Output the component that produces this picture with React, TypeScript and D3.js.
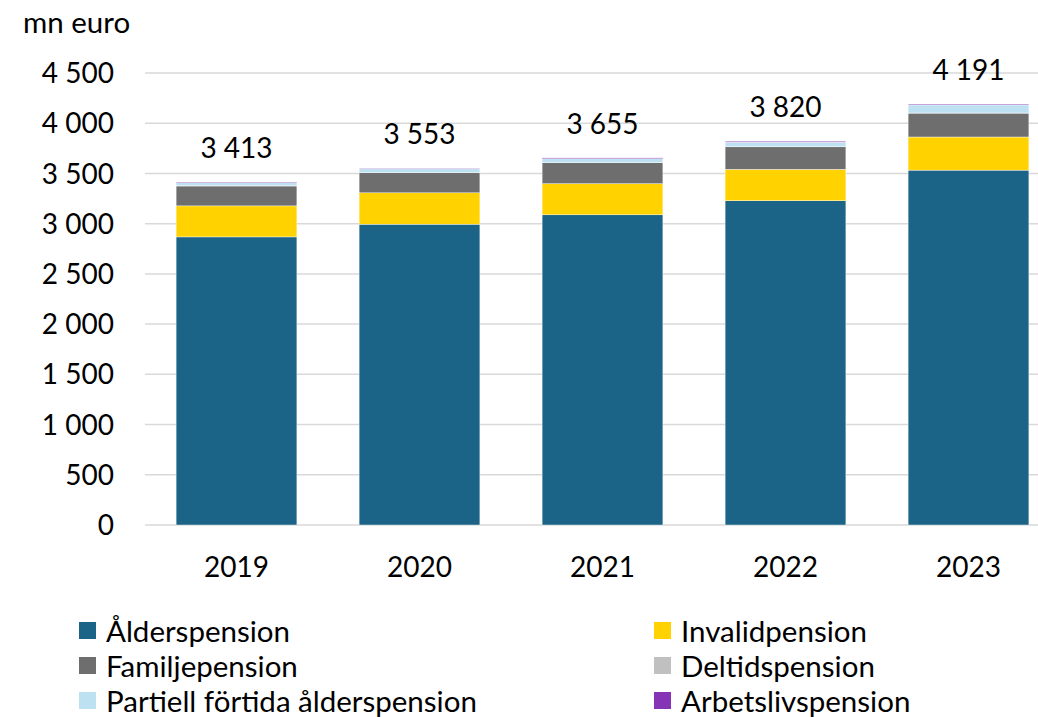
import React from "react";
import * as d3 from "d3";

const years = ["2019", "2020", "2021", "2022", "2023"];
const alder = [2868, 2995, 3088, 3228, 3533];
const invalid = [309, 312, 310, 313, 330];
const familj = [198, 200, 208, 224, 238];
const deltid = [2, 1, 1, 1, 1];
const partiell = [30, 38, 40, 45, 80];
const arbetsliv = [6, 7, 8, 9, 9];
const totals = [3413, 3553, 3655, 3820, 4191];
const yTicks = [0, 500, 1000, 1500, 2000, 2500, 3000, 3500, 4000, 4500];

const seriesNames = ["Ålderspension", "Invalidpension", "Familjepension", "Deltidspension", "Partiell förtida ålderspension", "Arbetslivspension"];
const seriesColors = ["#1b6387", "#ffd200", "#6e6e6e", "#c0c0c0", "#bde1f0", "#8434b4"];
const seriesData = [alder, invalid, familj, deltid, partiell, arbetsliv];

const fmt = (v: number) => {
  const s = String(v);
  return s.length > 3 ? s.slice(0, s.length - 3) + " " + s.slice(s.length - 3) : s;
};

export default function App() {
  const W = 1038, H = 717;
  const left = 145, right = 1060, top = 73, bottom = 525;
  const x = d3.scaleBand().domain(years).range([left, right]).paddingInner(0.34).paddingOuter(0.17);
  const y = d3.scaleLinear().domain([0, 4500]).range([bottom, top]);
  const rows = years.map((yr, i) => {
    const o: any = { year: yr };
    seriesNames.forEach((n, k) => (o[n] = seriesData[k][i]));
    return o;
  });
  const stack = d3.stack<any>().keys(seriesNames)(rows);
  const font = "Lato, 'Open Sans', sans-serif";
  const legendItems = [
    [0, 0], [1, 0], [0, 1], [1, 1], [0, 2], [1, 2],
  ];
  return (
    <svg width={W} height={H} style={{ position: "fixed", left: 0, top: 0, background: "#fff" }} fontFamily={font}>
      <rect width={W} height={H} fill="#fff" />
      {yTicks.map((t) => (
        <g key={t}>
          <line x1={left} x2={right} y1={y(t)} y2={y(t)} stroke="#d9d9d9" strokeWidth={1.5} />
          <text x={114} y={y(t)} dy="0.36em" textAnchor="end" fontSize={28} fill="#000">{fmt(t)}</text>
        </g>
      ))}
      <text x={23} y={33} fontSize={29.5} fill="#000">mn euro</text>
      {stack.map((layer, k) => (
        <g key={k} fill={seriesColors[k]}>
          {layer.map((d, i) => (
            <rect key={i} x={x(years[i])} width={x.bandwidth()} y={y(d[1])} height={Math.max(0, y(d[0]) - y(d[1]))} stroke="#fff" strokeWidth={0.4} />
          ))}
        </g>
      ))}
      {years.map((yr, i) => (
        <g key={yr}>
          <text x={(x(yr) as number) + x.bandwidth() / 2} y={y(totals[i]) - 24} textAnchor="middle" fontSize={28} fill="#000">{fmt(totals[i])}</text>
          <text x={(x(yr) as number) + x.bandwidth() / 2} y={577} textAnchor="middle" fontSize={28} fill="#000">{yr}</text>
        </g>
      ))}
      {seriesNames.map((n, k) => {
        const [c, r] = legendItems[k];
        const sx = c === 0 ? 79 : 654;
        const ry = 622 + r * 35;
        return (
          <g key={n}>
            <rect x={sx} y={ry} width={17} height={17} fill={seriesColors[k]} />
            <text x={sx + 27} y={ry + 20} fontSize={29.5} fill="#000">{n}</text>
          </g>
        );
      })}
    </svg>
  );
}
